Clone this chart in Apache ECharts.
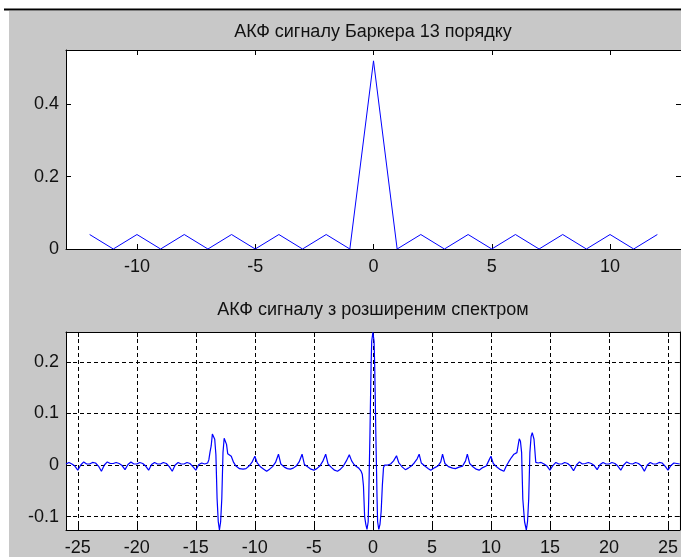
<!DOCTYPE html>
<html>
<head>
<meta charset="utf-8">
<script src="https://cdn.jsdelivr.net/npm/echarts@6/dist/echarts.min.js"></script>
<style>html,body{margin:0;padding:0;background:#fff}#c{width:681px;height:557px}</style>
</head>
<body>
<div id="c"></div>
<script>
// ---- data ----
const title1 = 'АКФ сигналу Баркера 13 порядку';
const title2 = 'АКФ сигналу з розширеним спектром';

const barkerLags = [-12,-11,-10,-9,-8,-7,-6,-5,-4,-3,-2,-1,0,1,2,3,4,5,6,7,8,9,10,11,12];
const barkerAcf  = [0.04,0,0.04,0,0.04,0,0.04,0,0.04,0,0.04,0,0.52,0,0.04,0,0.04,0,0.04,0,0.04,0,0.04,0,0.04];

const spreadX = [
 -26,-25.75,-25.5,-25.25,-25,-24.75,-24.5,-24.25,-24,-23.75,-23.5,-23.25,-23,-22.75,-22.5,-22.25,-22,-21.75,-21.5,-21.25,
 -21,-20.75,-20.5,-20.25,-20,-19.75,-19.5,-19.25,-19,-18.75,-18.5,-18.25,-18,-17.75,-17.5,-17.25,-17,-16.75,-16.5,-16.25,
 -16,-15.75,-15.5,-15.25,-15,-14.75,-14.5,-14.25,-14,-13.9,-13.8,-13.7,-13.6,-13.5,-13.4,-13.3,-13.2,-13.1,-13.0,-12.9,
 -12.8,-12.7,-12.6,-12.5,-12.4,-12.3,-12.2,-12.0,-11.8,-11.6,-11.3,-11.0,-10.75,-10.5,-10.25,-10.0,-9.8,-9.5,-9.25,-9.0,
 -8.75,-8.5,-8.25,-8.0,-7.8,-7.5,-7.25,-7.0,-6.75,-6.5,-6.25,-6.0,-5.8,-5.5,-5.25,-5.0,-4.75,-4.5,-4.25,-4.0,
 -3.8,-3.5,-3.25,-3.0,-2.75,-2.5,-2.25,-2.0,-1.8,-1.6,-1.4,-1.2,-1.0,-0.9,-0.8,-0.7,-0.6,-0.5,-0.4,-0.35,
 -0.3,-0.25,-0.2,-0.15,-0.1,0,0.1,0.15,0.2,0.25,0.3,0.35,0.4,0.5,0.6,0.7,0.8,0.9,1.0,1.25,
 1.5,1.75,2.0,2.2,2.5,2.75,3.0,3.25,3.5,3.75,3.92,4.1,4.4,4.7,4.9,5.25,5.5,5.75,5.9,6.1,
 6.4,6.75,7.0,7.3,7.6,7.85,8.0,8.2,8.5,8.75,9.0,9.3,9.6,9.85,10.0,10.2,10.5,10.8,11.1,11.3,
 11.5,11.75,11.95,12.2,12.4,12.5,12.6,12.7,12.85,13.0,13.1,13.2,13.3,13.4,13.5,13.65,13.8,14.0,14.25,14.5,
 14.75,15.0,15.25,15.5,15.75,16.0,16.25,16.5,16.75,17.0,17.25,17.5,17.75,18.0,18.25,18.5,18.75,19.0,19.25,19.5,
 19.75,20.0,20.25,20.5,20.75,21.0,21.25,21.5,21.75,22.0,22.25,22.5,22.75,23.0,23.25,23.5,23.75,24.0,24.25,24.5,
 24.75,25.0,25.25,25.5,25.75,26.0
];
const spreadY = [
 0.002,0.005,0.002,-0.002,-0.010,0.000,0.006,0.002,0.002,0.005,0.004,-0.002,-0.012,0.000,0.006,0.003,0.003,0.005,0.003,-0.001,
 -0.009,0.001,0.006,0.002,0.002,0.005,0.003,-0.002,-0.010,0.001,0.005,0.002,0.002,0.005,0.003,-0.003,-0.012,0.000,0.005,0.002,
 0.002,0.005,0.003,-0.003,-0.010,0.001,0.004,0.002,0.004,0.010,0.025,0.037,0.060,0.063,0.050,0.020,-0.065,-0.110,-0.126,-0.110,
 -0.065,0.024,0.052,0.053,0.040,0.022,0.021,0.017,0.005,-0.002,-0.007,-0.008,-0.007,-0.002,0.005,0.017,0.004,-0.004,-0.008,-0.012,
 -0.008,-0.003,0.005,0.021,0.002,-0.004,-0.007,-0.008,-0.006,-0.002,0.006,0.021,0.001,-0.004,-0.008,-0.010,-0.007,-0.002,0.007,0.021,
 0.002,-0.005,-0.010,-0.012,-0.008,-0.002,0.008,0.020,0.008,0.001,-0.003,-0.006,-0.012,-0.018,-0.040,-0.100,-0.115,-0.125,-0.110,-0.062,
 0.000,0.059,0.130,0.195,0.240,0.2575,0.240,0.195,0.130,0.059,0.000,-0.062,-0.110,-0.125,-0.115,-0.090,-0.040,-0.005,0.000,0.000,
 0.002,0.008,0.018,0.004,-0.004,-0.009,-0.006,-0.002,0.004,0.012,0.021,0.004,-0.002,-0.007,-0.010,-0.005,-0.002,0.006,0.021,0.003,
 -0.003,-0.006,-0.007,-0.004,-0.002,0.008,0.021,0.003,-0.004,-0.008,-0.010,-0.005,-0.002,0.010,0.017,0.003,-0.004,-0.009,-0.012,-0.002,
 0.006,0.015,0.021,0.024,0.051,0.046,0.024,-0.066,-0.110,-0.126,-0.110,-0.066,0.024,0.055,0.063,0.050,0.005,0.004,0.005,0.002,
 -0.002,-0.010,-0.001,0.005,0.002,0.002,0.005,0.003,-0.002,-0.011,0.000,0.006,0.002,0.003,0.005,0.003,-0.001,-0.009,0.001,0.005,
 0.002,0.002,0.005,0.003,-0.002,-0.010,0.000,0.006,0.003,0.002,0.005,0.003,-0.002,-0.012,0.000,0.005,0.002,0.002,0.005,0.004,
 -0.002,-0.010,-0.001,0.004,0.003,0.002
];

const topXTicks = [-10, -5, 0, 5, 10];
const topYTicks = [0, 0.2, 0.4];
const botXTicks = [-25,-20,-15,-10,-5,0,5,10,15,20,25];
const botYTicks = [-0.1, 0, 0.1, 0.2];

// ---- chart ----
const FONT = '"Liberation Sans", Arial, sans-serif';
const lbl = {color:'#111', fontFamily: FONT, fontSize: 18};
const spreadData = spreadX.map((x,i)=>[x, spreadY[i]]);
const barkerData = barkerLags.map((x,i)=>[x, barkerAcf[i]]);

function xAx(gi, min, max, ticks, pos, showLabel, grid) {
  return {
    type:'value', gridIndex: gi, min, max, position: pos,
    axisLine:{show:true, onZero:false, lineStyle:{color:'#000', width:1}},
    axisTick:{show:true, inside:true, length:5, customValues: ticks, lineStyle:{color:'#000'}},
    axisLabel:Object.assign({show: showLabel, customValues: ticks, margin: 9}, lbl),
    splitLine:{show: grid, lineStyle:{color:'#000', type:[4,3], width:1}}
  };
}
function yAx(gi, min, max, ticks, pos, showLabel, grid) {
  return {
    type:'value', gridIndex: gi, min, max, position: pos,
    axisLine:{show:true, onZero:false, lineStyle:{color:'#000', width:1}},
    axisTick:{show:true, inside:true, length:5, customValues: ticks, lineStyle:{color:'#000'}},
    axisLabel:Object.assign({show: showLabel, customValues: ticks, margin: 7,
      formatter: v => String(Math.round(v*10)/10)}, lbl),
    splitLine:{show: grid, lineStyle:{color:'#000', type:[4,3], width:1}}
  };
}

const chart = echarts.init(document.getElementById('c'), null, {renderer:'canvas'});
chart.setOption({
  animation:false,
  backgroundColor:'#ffffff',
  graphic:[
    {type:'rect', z:-10, shape:{x:9, y:11, width:672, height:546}, style:{fill:'#c8c8c8'}},
    {type:'line', z:-9, shape:{x1:4, y1:9.5, x2:681, y2:9.5}, style:{stroke:'#000', lineWidth:2}},
    {type:'text', x:373, y:32, style:{text:title1, font:'18px ' + FONT, fill:'#111', align:'center', verticalAlign:'middle'}, z:5},
    {type:'text', x:373, y:310, style:{text:title2, font:'18px ' + FONT, fill:'#111', align:'center', verticalAlign:'middle'}, z:5}
  ],
  grid:[
    {left:66, top:50, width:615, height:199, show:true, backgroundColor:'#ffffff', borderWidth:0},
    {left:66, top:332, width:615, height:198, show:true, backgroundColor:'#ffffff', borderWidth:0}
  ],
  xAxis:[
    xAx(0,-13,13,topXTicks,'bottom',true,false),
    xAx(0,-13,13,topXTicks,'top',false,false),
    xAx(1,-26,26,botXTicks,'bottom',true,true),
    xAx(1,-26,26,botXTicks,'top',false,false)
  ],
  yAxis:[
    yAx(0,0,0.55,topYTicks,'left',true,false),
    yAx(0,0,0.55,topYTicks,'right',false,false),
    yAx(1,-0.126,0.258,botYTicks,'left',true,true),
    yAx(1,-0.126,0.258,botYTicks,'right',false,false)
  ],
  series:[
    {type:'line', xAxisIndex:0, yAxisIndex:0, data:barkerData, showSymbol:false, lineStyle:{color:'#0000ff', width:1}, z:3},
    {type:'line', xAxisIndex:2, yAxisIndex:2, data:spreadData, showSymbol:false, lineStyle:{color:'#0000ff', width:1.2}, z:3}
  ]
});
</script>
</body>
</html>
